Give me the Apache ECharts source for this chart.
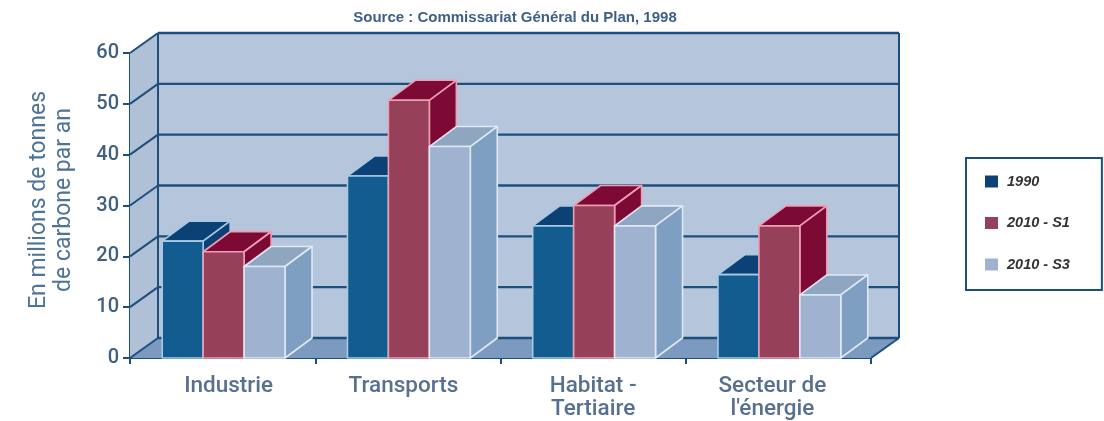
<!DOCTYPE html>
<html>
<head>
<meta charset="utf-8">
<style>html,body{margin:0;padding:0;background:#fff}#chart{width:1104px;height:421px}</style>
<script src="https://cdn.jsdelivr.net/npm/echarts@6/dist/echarts.min.js"></script>
</head>
<body>
<div id="chart"></div>
<script>
const categories = ['Industrie', 'Transports', 'Habitat -\nTertiaire', "Secteur de\nl'énergie"];
const values1990 = [23, 35.8, 26, 16.4];
const valuesS1 = [20.9, 50.7, 30, 26];
const valuesS3 = [18, 41.6, 26, 12.4];
const yTicks = [0, 10, 20, 30, 40, 50, 60];

// Depth of the pseudo-3D projection, in pixels
const DX = 28, DY = -20;
const LINE = '#1d4f7c';
// Horizontal nudge of each category label from its band centre
const labelNudge = [6, -4.5, 0, -6];

const chart = echarts.init(document.getElementById('chart'), null, {renderer: 'canvas'});

function poly(points, fill, stroke, lineWidth) {
  return {
    type: 'polygon',
    shape: {points},
    style: {fill, stroke: stroke || null, lineWidth: lineWidth || 0, lineJoin: 'round'}
  };
}
function seg(x1, y1, x2, y2, width) {
  return {
    type: 'line',
    shape: {x1, y1, x2, y2},
    style: {stroke: LINE, lineWidth: width || 2, fill: null}
  };
}

// Back wall, side wall and floor behind the bars
function renderRoom(params, api) {
  const c = params.coordSys;
  const x0 = c.x, x1 = c.x + c.width, yT = c.y, yB = c.y + c.height;
  return {
    type: 'group',
    children: [
      poly([[x0 + DX, yT + DY], [x1 + DX, yT + DY], [x1 + DX, yB + DY], [x0 + DX, yB + DY]], '#b5c6dc'),
      poly([[x0, yT], [x0 + DX, yT + DY], [x0 + DX, yB + DY], [x0, yB]], '#afc0d7'),
      poly([[x0, yB], [x0 + DX, yB + DY], [x1 + DX, yB + DY], [x1, yB]], '#7c9abf'),
      seg(x0 + DX, yT + DY, x0 + DX, yB + DY),
      seg(x1 + DX, yT + DY, x1 + DX, yB + DY),
      seg(x1, yB, x1 + DX, yB + DY)
    ]
  };
}

// One gridline per tick, running along the side wall and across the back wall
function renderGrid(params, api) {
  const c = params.coordSys;
  const y = api.coord([0, api.value(0)])[1];
  const x0 = c.x, x1 = c.x + c.width;
  return {
    type: 'group',
    children: [
      seg(x0, y, x0 + DX, y + DY),
      seg(x0 + DX, y + DY, x1 + DX, y + DY, 2.4)
    ]
  };
}

function makeBars(slot, colors) {
  return function (params, api) {
    const band = api.size([1, 0])[0];
    const w = band * 0.221;
    const base = api.coord([api.value(0), 0]);
    const top = api.coord([api.value(0), api.value(1)]);
    const l = base[0] + 1 + (slot - 1.5) * w;
    const r = l + w;
    const t = top[1], b = base[1];
    const sw = 1.6;
    const dx = DX - 1;
    return {
      type: 'group',
      children: [
        poly([[l, t], [r, t], [r + dx, t + DY], [l + dx, t + DY]], colors.top, colors.edge, sw),
        poly([[r, t], [r + dx, t + DY], [r + dx, b + DY], [r, b]], colors.side, colors.edge, sw),
        poly([[l, t], [r, t], [r, b], [l, b]], colors.front, colors.edge, sw)
      ]
    };
  };
}

const palette = {
  y1990: {front: '#135c8f', top: '#0b4174', side: '#0b4174', edge: '#a7c9e4'},
  s1: {front: '#964059', top: '#7d0a35', side: '#7d0a35', edge: '#ee9fb4'},
  s3: {front: '#9fb3d0', top: '#8fa6c1', side: '#7f9fc2', edge: '#dfe8f3'}
};

function barSeries(name, values, slot, colors, z) {
  return {
    name,
    type: 'custom',
    z,
    renderItem: makeBars(slot, colors),
    itemStyle: {color: colors.front === '#135c8f' ? '#0b4174' : colors.front},
    encode: {x: 0, y: 1},
    data: values.map((v, i) => [i, v])
  };
}

chart.setOption({
  animation: false,
  title: {
    text: 'Source : Commissariat Général du Plan, 1998',
    left: 510,
    top: 5,
    textAlign: 'center',
    textStyle: {fontFamily: 'Liberation Sans', fontWeight: 'bold', fontSize: 15, color: '#3d5f85'}
  },
  legend: {
    left: 966,
    top: 158,
    orient: 'vertical',
    itemWidth: 13,
    itemHeight: 12,
    itemGap: 26.5,
    padding: [16, 32, 18, 19],
    borderColor: LINE,
    borderWidth: 2,
    backgroundColor: '#fff',
    icon: 'rect',
    data: ['1990', '2010 - S1', '2010 - S3'],
    textStyle: {
      fontFamily: 'Liberation Sans',
      fontStyle: 'italic',
      fontWeight: 'bold',
      fontSize: 14.5,
      color: '#333',
      padding: [0, 0, 0, 4]
    }
  },
  grid: {left: 130, top: 53, width: 741, height: 305, outerBoundsMode: 'none'},
  xAxis: {
    type: 'category',
    data: categories.map((value, i) => ({
      value,
      textStyle: {
        padding: [0, Math.max(0, -2 * labelNudge[i]), 0, Math.max(0, 2 * labelNudge[i])]
      }
    })),
    axisLine: {show: true, lineStyle: {color: LINE, width: 2}},
    axisTick: {show: true, alignWithLabel: false, length: 6, lineStyle: {color: LINE, width: 2}},
    axisLabel: {
      margin: 17,
      fontFamily: 'Roboto',
      fontWeight: 500,
      fontSize: 22.5,
      lineHeight: 23,
      color: '#56708f',
      interval: 0
    },
    splitLine: {show: false}
  },
  yAxis: {
    type: 'value',
    min: 0,
    max: 60,
    interval: 10,
    name: 'En millions de tonnes\nde carbone par an',
    nameLocation: 'middle',
    nameGap: 53,
    nameRotate: 90,
    nameTextStyle: {
      fontFamily: 'Roboto',
      fontSize: 23,
      lineHeight: 25,
      color: '#4d7396',
      padding: [0, 0, 0, 11]
    },
    axisLine: {show: true, lineStyle: {color: LINE, width: 2}},
    axisTick: {show: true, length: 7, lineStyle: {color: LINE, width: 2}},
    axisLabel: {
      margin: 11,
      fontFamily: 'Roboto',
      fontWeight: 500,
      fontSize: 20,
      color: '#41607f',
      formatter: v => String(v)
    },
    splitLine: {show: false}
  },
  series: [
    {type: 'custom', name: 'room', z: 1, silent: true, renderItem: renderRoom, data: [[0]], encode: {x: -1, y: -1}},
    {type: 'custom', name: 'gridlines', z: 1, silent: true, renderItem: renderGrid, data: yTicks.map(t => [t]), encode: {y: 0, x: -1}},
    barSeries('1990', values1990, 0, palette.y1990, 2),
    barSeries('2010 - S1', valuesS1, 1, palette.s1, 3),
    barSeries('2010 - S3', valuesS3, 2, palette.s3, 4)
  ]
});
</script>
</body>
</html>
